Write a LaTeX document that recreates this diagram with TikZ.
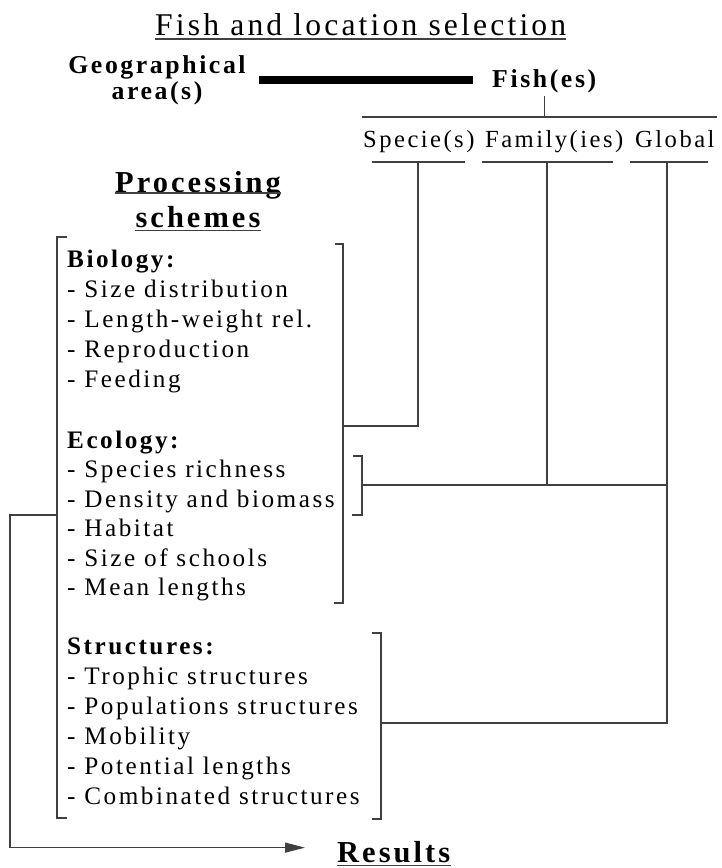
\documentclass[tikz,border=0pt]{standalone}
\usepackage{fontspec}
\setmainfont{Liberation Serif}[LetterSpace=10]
\usetikzlibrary{arrows.meta}

\tikzset{
  txt/.style={inner sep=0pt, anchor=base west, font=\fontsize{21.5}{24}\selectfont},
  head/.style={txt, font=\fontsize{21.5}{24}\selectfont\bfseries},
  big/.style={inner sep=0pt, anchor=base west, font=\fontsize{26}{30}\selectfont\bfseries},
  ln/.style={draw=black!75, line width=0.9pt},
  bar/.style={line width=7pt},
}

\begin{document}
\begin{tikzpicture}[x=0.03cm,y=-0.03cm]
\useasboundingbox (0,0) rectangle (721,868);

% top: selection
\node[big, font=\fontsize{27}{30}\selectfont] (sel) at (155,35) {Fish and location selection};
\draw[ln] ([yshift=-0.12cm]sel.base west) -- ([yshift=-0.12cm]sel.base east);

\node[inner sep=0pt, align=center, font=\fontsize{22}{22}\selectfont\bfseries] (geo) at (157,80) {Geographical\\area(s)};
\node[head, font=\fontsize{22}{24}\selectfont\bfseries] (fish) at (492,87) {Fish(es)};
\draw[bar, shorten <=0.4cm, shorten >=0.57cm] (geo.east) -- (geo.east -| fish.west);

\coordinate (tl) at (362,117);
\coordinate (tr) at (717,117);
\draw[ln] (tl) -- (tr);
\draw[ln] ([yshift=-0.1cm]fish.south) -- (fish.south |- tl);

\node[txt, font=\fontsize{21}{24}\selectfont] (spe) at (363,147) {Specie(s)};
\node[txt, font=\fontsize{21}{24}\selectfont] (fam) at (485,147) {Family(ies)};
\node[txt, font=\fontsize{21}{24}\selectfont] (glo) at (635,147) {Global};
\foreach \n/\a/\b/\m in {spe/372/465/418, fam/482/613/547, glo/630/708/667}{
  \draw[ln] (\a,162) -- (\b,162);
  \coordinate (\n-u) at (\m,162);
}

% processing schemes
\node[big, anchor=base] (proc) at (198,192) {Processing};
\node[big, anchor=base] (sch) at (198,227) {schemes};
\draw[ln] ([yshift=-0.03cm]proc.base west) -- ([yshift=-0.03cm]proc.base east);
\draw[ln] ([yshift=-0.1cm]sch.base west) -- ([yshift=-0.1cm]sch.base east);

\node[head] (bio) at (67,267) {Biology:};
\foreach \t [count=\i] in {Size distribution, Length-weight rel., Reproduction, Feeding}
  \node[txt] (bio\i) at (67,267+30*\i) {- \t};

\node[head] (eco) at (67,448) {Ecology:};
\foreach \t [count=\i] in {Species richness, Density and biomass, Habitat, Size of schools, Mean lengths}
  \node[txt] (eco\i) at (67,448+29.5*\i) {- \t};

\node[head] (str) at (67,654) {Structures:};
\foreach \t [count=\i] in {Trophic structures, Populations structures, Mobility, Potential lengths, Combinated structures}
  \node[txt] (str\i) at (67,654+30*\i) {- \t};

% brackets
\draw[ln] (67,237) -- (57,237) -- (57,818) -- (67,818);
\draw[ln] (335,244) -- (343,244) -- (343,603) -- (334,603);
\draw[ln] (353,456) -- (362,456) -- (362,515) -- (352,515);
\draw[ln] (372,633) -- (381,633) -- (381,819) -- (372,819);
\coordinate (lb) at (57,515);
\coordinate (be) at (343,426);
\coordinate (eb) at (362,485);
\coordinate (sb) at (381,723);

% links
\draw[ln] (spe-u) -- (spe-u |- be) -- (be);
\draw[ln] (fam-u) -- (fam-u |- eb);
\draw[ln] (glo-u) -- (glo-u |- sb) -- (sb);
\draw[ln] (eb) -- (eb -| glo-u);

\node[big] (res) at (337,862) {Results};
\draw[ln] ([yshift=-0.1cm]res.base west) -- ([yshift=-0.1cm]res.base east);
\draw[ln, -{Triangle[length=0.6cm,width=0.3cm]}] (lb) -- (10,515) |- ([xshift=-0.96cm,yshift=0.12cm]res.west);

\end{tikzpicture}
\end{document}
